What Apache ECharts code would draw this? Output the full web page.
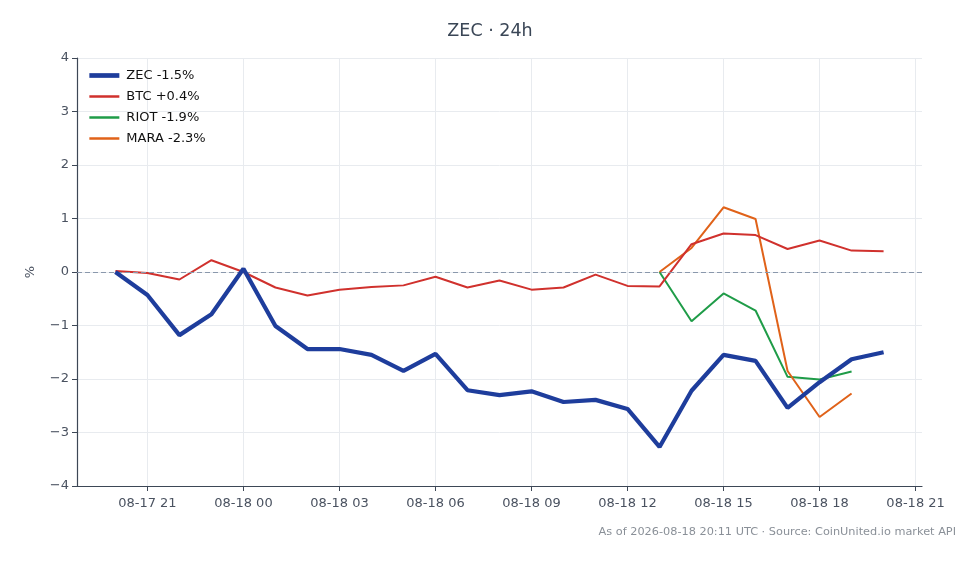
<!DOCTYPE html>
<html>
<head>
<meta charset="utf-8">
<script src="https://cdn.jsdelivr.net/npm/echarts@6/dist/echarts.min.js"></script>
<style>
  html,body{margin:0;padding:0;background:#fff;}
  #chart{width:980px;height:564px;}
</style>
</head>
<body>
<div id="chart"></div>
<script>
// hourly points, 24h window (hours counted from 2026-08-17 00:00 UTC)
var hours = [20, 21, 22, 23, 24, 25, 26, 27, 28, 29, 30, 31, 32,
  33, 34, 35, 36, 37, 38, 39, 40, 41, 42, 43, 44];
// % change series
var zec = [0.0, -0.43, -1.18, -0.79, 0.06, -1.01, -1.44, -1.44, -1.55, -1.85, -1.53, -2.21, -2.30,
  -2.23, -2.43, -2.39, -2.56, -3.27, -2.22, -1.55, -1.66, -2.54, -2.06, -1.63, -1.50];
var btc = [0.02, -0.02, -0.14, 0.22, 0.0, -0.29, -0.44, -0.33, -0.28, -0.25, -0.09, -0.29, -0.16,
  -0.33, -0.29, -0.05, -0.26, -0.27, 0.52, 0.72, 0.69, 0.43, 0.59, 0.40, 0.39];
// stocks only start trading at 13:00
var riot = [null, null, null, null, null, null, null, null, null, null, null, null, null,
  null, null, null, null, 0.0, -0.92, -0.40, -0.72, -1.96, -2.01, -1.86, null];
var mara = [null, null, null, null, null, null, null, null, null, null, null, null, null,
  null, null, null, null, 0.0, 0.45, 1.21, 0.99, -1.85, -2.71, -2.27, null];
var names = ['ZEC -1.5%', 'BTC +0.4%', 'RIOT -1.9%', 'MARA -2.3%'];
var colors = ['#1e3d9c', '#d0312d', '#1f9c48', '#e06219'];
var widths = [4.2, 2, 2, 2];
var xTicks = [21, 24, 27, 30, 33, 36, 39, 42, 45];
var xTickLabels = ['08-17 21', '08-18 00', '08-18 03', '08-18 06', '08-18 09',
  '08-18 12', '08-18 15', '08-18 18', '08-18 21'];

function pairs(arr){
  var out = [];
  for (var i = 0; i < arr.length; i++) {
    if (arr[i] !== null) out.push([hours[i], arr[i]]);
  }
  return out;
}

var h0 = hours[0], h1 = hours[hours.length - 1];
var padH = (h1 - h0) * 0.05;

var font = 'DejaVu Sans';
var axisColor = '#3d4756';
var labelColor = '#4a5260';
var mycharts = echarts.init(document.getElementById('chart'));
var option = {
  animation: false,
  backgroundColor: '#fff',
  textStyle: { fontFamily: font },
  title: {
    text: 'ZEC · 24h',
    left: 'center',
    top: 17,
    textStyle: { fontFamily: font, fontSize: 17.5, fontWeight: 'normal', color: '#3a4656' }
  },
  graphic: [{
    type: 'text',
    right: 24,
    top: 527,
    style: {
      text: 'As of 2026-08-18 20:11 UTC · Source: CoinUnited.io market API',
      fontFamily: font, fontSize: 11.3, fill: '#8a9098'
    }
  }],
  legend: {
    orient: 'vertical',
    left: 82,
    top: 64,
    itemWidth: 30,
    itemHeight: 10,
    itemGap: 8,
    data: names.map(function(n, i){
      return { name: n, lineStyle: { width: widths[i] + 0.5, color: colors[i] } };
    }),
    itemStyle: { opacity: 0 },
    textStyle: { fontFamily: font, fontSize: 13, color: '#111', padding: [0, 0, 0, 2] }
  },
  grid: { left: 77, right: 58, top: 58, bottom: 78, containLabel: false },
  xAxis: {
    type: 'value',
    min: h0 - padH,
    max: h1 + padH,
    axisLine: { show: true, onZero: false, lineStyle: { color: axisColor, width: 1.2 } },
    axisTick: { show: true, customValues: xTicks, length: 5, lineStyle: { color: axisColor } },
    axisLabel: {
      customValues: xTicks,
      fontFamily: font, fontSize: 13, color: labelColor, margin: 11,
      formatter: function(v){
        var i = xTicks.indexOf(Math.round(v));
        return i >= 0 ? xTickLabels[i] : '';
      }
    },
    splitLine: { show: true, lineStyle: { color: '#e8ebef', width: 1 } }
  },
  yAxis: {
    type: 'value',
    min: -4,
    max: 4,
    interval: 1,
    name: '%',
    nameLocation: 'middle',
    nameGap: 40,
    nameRotate: 90,
    nameTextStyle: { fontFamily: font, fontSize: 13, color: labelColor },
    axisLine: { show: true, onZero: false, lineStyle: { color: axisColor, width: 1.2 } },
    axisTick: { show: true, length: 5, lineStyle: { color: axisColor } },
    axisLabel: {
      fontFamily: font, fontSize: 13, color: labelColor, margin: 8,
      formatter: function(v){ return v < 0 ? '\u2212' + Math.abs(v) : '' + v; }
    },
    splitLine: { show: true, lineStyle: { color: '#e8ebef', width: 1 } }
  },
  series: [
    {
      name: names[0], type: 'line', data: pairs(zec), showSymbol: false, symbol: 'none', z: 5,
      lineStyle: { color: colors[0], width: widths[0] }, itemStyle: { color: colors[0] },
      markLine: {
        silent: true, symbol: 'none', label: { show: false },
        lineStyle: { color: '#8a98ac', type: [5, 3], width: 1 },
        data: [{ yAxis: 0 }]
      }
    },
    {
      name: names[1], type: 'line', data: pairs(btc), showSymbol: false, symbol: 'none', z: 4,
      lineStyle: { color: colors[1], width: widths[1] }, itemStyle: { color: colors[1] }
    },
    {
      name: names[2], type: 'line', data: pairs(riot), showSymbol: false, symbol: 'none', z: 3,
      lineStyle: { color: colors[2], width: widths[2] }, itemStyle: { color: colors[2] }
    },
    {
      name: names[3], type: 'line', data: pairs(mara), showSymbol: false, symbol: 'none', z: 3,
      lineStyle: { color: colors[3], width: widths[3] }, itemStyle: { color: colors[3] }
    }
  ]
};
mycharts.setOption(option);
</script>
</body>
</html>
